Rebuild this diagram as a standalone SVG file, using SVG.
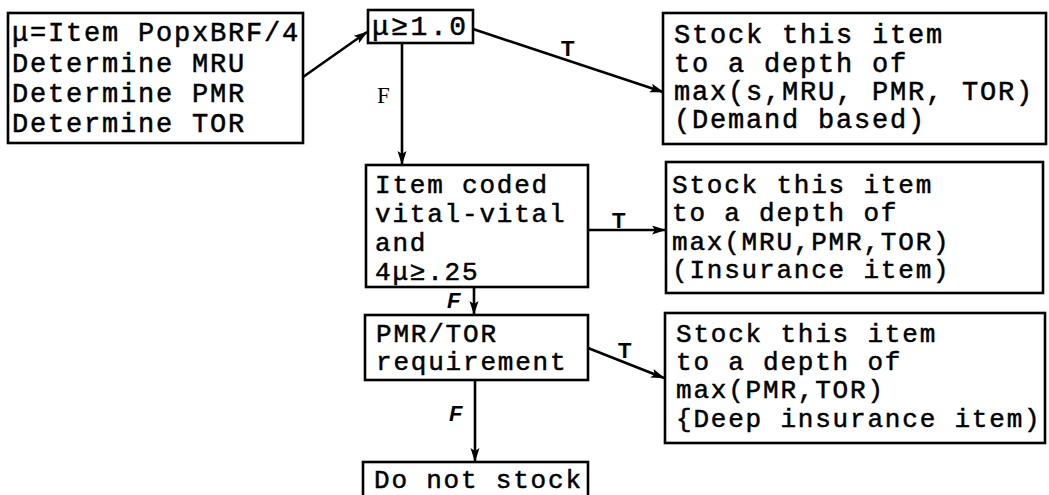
<svg xmlns="http://www.w3.org/2000/svg" width="1049" height="495" viewBox="0 0 1049 495">
<style>
.box{fill:#fff;stroke:#000;stroke-width:2.6}
.t{font-family:"Liberation Mono","Courier New",monospace;font-size:26px;letter-spacing:1.8px;fill:#000;stroke:#000;stroke-width:0.5}
.t30{font-size:27px;letter-spacing:1.8px}
.edge{fill:none;stroke:#000;stroke-width:2.6}
.lbl{font-family:"Liberation Sans",Arial,sans-serif;font-weight:bold;font-size:22px;fill:#000}
.lblF{font-family:"Liberation Serif","Times New Roman",serif;font-size:23px;fill:#000}
</style>
<defs>
<marker id="ah" markerUnits="userSpaceOnUse" markerWidth="14" markerHeight="10" refX="13" refY="4.5" orient="auto">
<path d="M0,0 L14,4.5 L0,9 L3,4.5 z" fill="#000"/>
</marker>
</defs>
<rect width="1049" height="495" fill="#fff"/>
<g id="connectors">
<path class="edge" d="M303,77 L367,32" marker-end="url(#ah)"/>
<path class="edge" d="M473,29 L663,92" marker-end="url(#ah)"/>
<path class="edge" d="M402,43 L402,164" marker-end="url(#ah)"/>
<path class="edge" d="M588,230 L665,230" marker-end="url(#ah)"/>
<path class="edge" d="M474,287 L474,314" marker-end="url(#ah)"/>
<path class="edge" d="M588,348 L664,378" marker-end="url(#ah)"/>
<path class="edge" d="M475,380 L475,461" marker-end="url(#ah)"/>
<text class="lbl" x="561" y="56">T</text>
<text class="lblF" x="377" y="103">F</text>
<text class="lbl" x="612" y="228">T</text>
<text class="lbl" x="447" y="308" font-style="italic">F</text>
<text class="lbl" x="618" y="358">T</text>
<text class="lbl" x="449" y="421" font-style="italic">F</text>
</g>
<g id="start">
<rect class="box" x="8" y="13" width="295" height="130"/>
<text class="t t30" x="12" y="41">μ=Item PopxBRF/4</text>
<text class="t t30" x="12" y="72">Determine MRU</text>
<text class="t t30" x="12" y="102">Determine PMR</text>
<text class="t t30" x="12" y="132">Determine TOR</text>
</g>
<g id="mu-test">
<rect class="box" x="368" y="10" width="105" height="33"/>
<text class="t" x="372" y="35" style="font-size:28px;letter-spacing:2.5px">μ≥1.0</text>
</g>
<g id="demand-based">
<rect class="box" x="663" y="13" width="383" height="131"/>
<text class="t t30" x="674" y="43">Stock this item</text>
<text class="t t30" x="674" y="72">to a depth of</text>
<text class="t t30" x="674" y="100">max(s,MRU, PMR, TOR)</text>
<text class="t t30" x="674" y="128">(Demand based)</text>
</g>
<g id="vital-test">
<rect class="box" x="366" y="165" width="222" height="122"/>
<text class="t" x="375" y="193">Item coded</text>
<text class="t" x="375" y="222">vital-vital</text>
<text class="t" x="375" y="251">and</text>
<text class="t" x="375" y="280">4μ≥.25</text>
</g>
<g id="insurance">
<rect class="box" x="666" y="162" width="377" height="131"/>
<text class="t" x="672" y="193">Stock this item</text>
<text class="t" x="672" y="221">to a depth of</text>
<text class="t" x="672" y="250">max(MRU,PMR,TOR)</text>
<text class="t" x="672" y="278">(Insurance item)</text>
</g>
<g id="pmr-tor-test">
<rect class="box" x="365" y="315" width="223" height="65"/>
<text class="t" x="376" y="342">PMR/TOR</text>
<text class="t" x="376" y="370">requirement</text>
</g>
<g id="deep-insurance">
<rect class="box" x="665" y="313" width="380" height="130"/>
<text class="t" x="676" y="342">Stock this item</text>
<text class="t" x="676" y="370">to a depth of</text>
<text class="t" x="676" y="398">max(PMR,TOR)</text>
<text class="t" x="676" y="427">{Deep insurance item)</text>
</g>
<g id="do-not-stock">
<rect class="box" x="363" y="462" width="225" height="50"/>
<text class="t" x="374" y="488">Do not stock</text>
</g>
</svg>
